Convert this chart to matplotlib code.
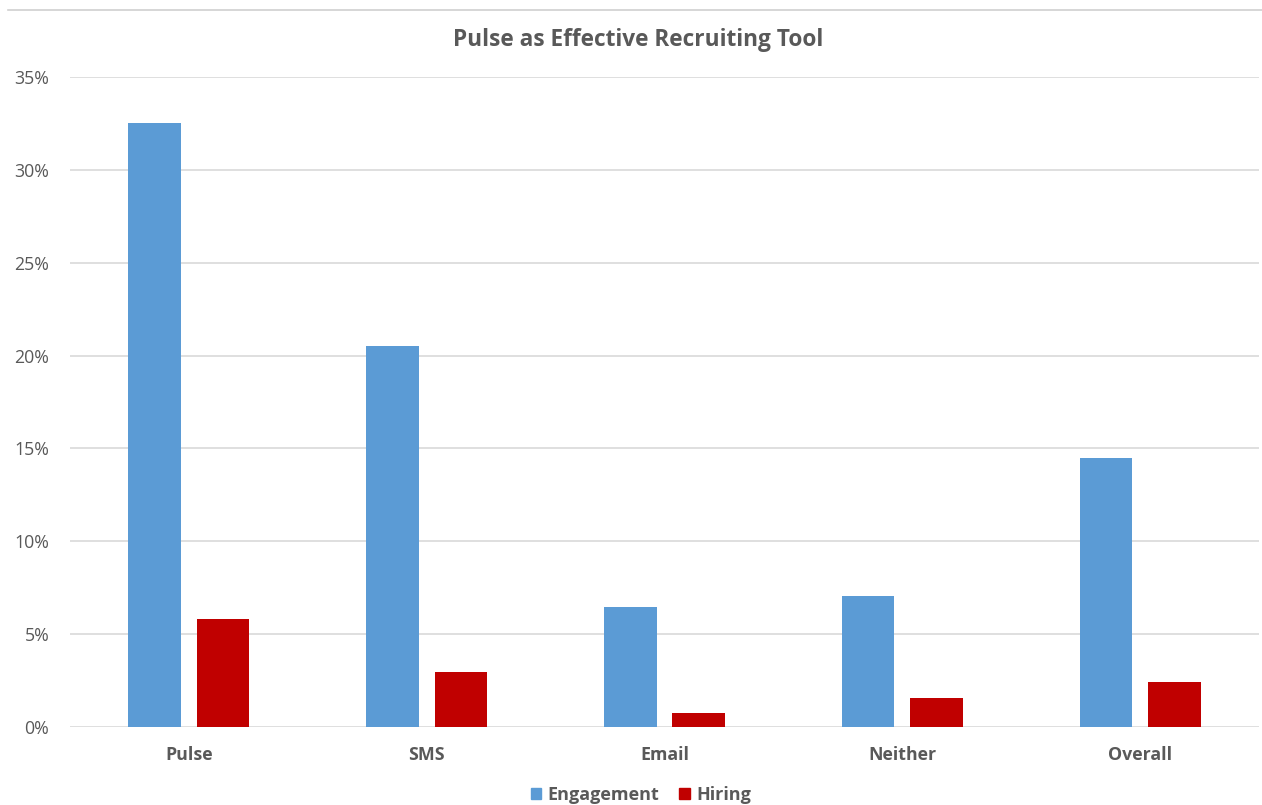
import matplotlib
matplotlib.use("Agg")
import matplotlib.pyplot as plt
import numpy as np
from matplotlib.patches import Patch
from matplotlib.ticker import FuncFormatter, MultipleLocator

categories = ["Pulse", "SMS", "Email", "Neither", "Overall"]
engagement = [32.5, 20.5, 6.44, 7.03, 14.5]
hiring = [5.79, 2.94, 0.77, 1.54, 2.42]
series_names = ["Engagement", "Hiring"]
colors = ["#5b9bd5", "#c00000"]

plt.rcParams['font.family'] = ['Open Sans', 'DejaVu Sans']
gray = "#595959"

W, H = 1262, 805
fig = plt.figure(figsize=(W/100, H/100), dpi=100)
ax = fig.add_axes([70/W, 1-727/H, 1189/W, 650/H])

x = np.arange(len(categories))
w = 0.221
off = (0.221 + 0.066) / 2
ax.bar(x - off, engagement, width=w, color=colors[0], zorder=3, label=series_names[0])
ax.bar(x + off, hiring, width=w, color=colors[1], zorder=3, label=series_names[1])

ax.set_xlim(-0.5, len(categories) - 0.5)
ax.set_ylim(0, 35)
ax.yaxis.set_major_locator(MultipleLocator(5))
ax.yaxis.set_major_formatter(FuncFormatter(lambda v, p: f"{v:.0f}%"))
ax.grid(axis='y', color="#d9d9d9", linewidth=1.2, zorder=0)
for s in ax.spines.values():
    s.set_visible(False)
ax.tick_params(axis='both', length=0)
ax.tick_params(axis='y', labelsize=12.8, labelcolor=gray, pad=15)
ax.set_xticks(x)
ax.set_xticklabels(categories, fontsize=12.8, fontweight='bold', color=gray)
ax.tick_params(axis='x', pad=14)

fig.text(638/W, 1-40/H, "Pulse as Effective Recruiting Tool", ha='center', va='center',
         fontsize=16.3, fontweight='bold', color=gray)

# top border line
fig.add_artist(plt.Line2D([8/W, 1.0], [1-10/H, 1-10/H], color="#d0d0d0", linewidth=1.2,
                          transform=fig.transFigure))

handles = [Patch(color=c, label=n) for c, n in zip(colors, series_names)]
leg = fig.legend(handles=handles, loc='center', bbox_to_anchor=(641/W, 1-795/H), ncol=2,
                 frameon=False, handlelength=0.6, handleheight=0.6, handletextpad=0.35,
                 columnspacing=1.1, prop={'size': 13, 'weight': 'bold'})
for t in leg.get_texts():
    t.set_color(gray)

fig.savefig("out.png", dpi=100, facecolor="white")
